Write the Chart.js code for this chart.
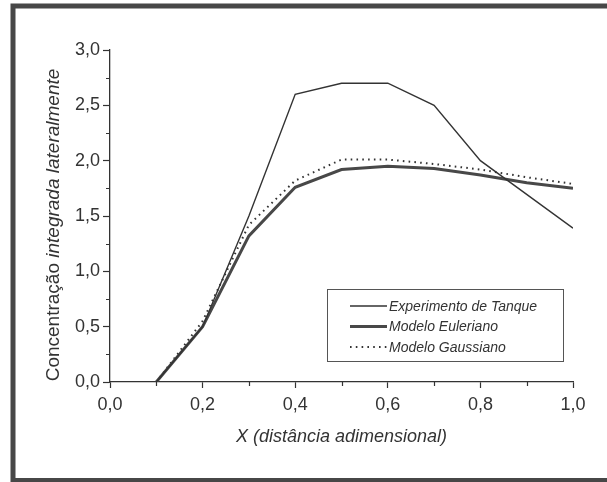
<!DOCTYPE html>
<html><head><meta charset="utf-8">
<script src="https://cdn.jsdelivr.net/npm/chart.js@4"></script>
<style>html,body{margin:0;padding:0;background:#fff;}#wrap{width:607px;height:482px;position:relative;}canvas{display:block;}</style>
</head><body><div id="wrap"><canvas id="c" width="607" height="482"></canvas></div>
<script>
// ---- data ----
const xExperimento = [0.1, 0.2, 0.3, 0.4, 0.5, 0.6, 0.7, 0.8, 1.0];
const experimento  = [0.0, 0.5, 1.5, 2.6, 2.7, 2.7, 2.5, 2.0, 1.39];
const xModelos = [0.1, 0.2, 0.3, 0.4, 0.5, 0.6, 0.7, 0.8, 0.9, 1.0];
const euleriano = [0.0, 0.5, 1.32, 1.76, 1.92, 1.95, 1.93, 1.87, 1.80, 1.75];
const gaussiano = [0.0, 0.55, 1.42, 1.82, 2.01, 2.01, 1.97, 1.92, 1.85, 1.79];
const seriesLabels = ['Experimento de Tanque', 'Modelo Euleriano', 'Modelo Gaussiano'];
const xTickValues = [0.0, 0.2, 0.4, 0.6, 0.8, 1.0];
const yTickValues = [0.0, 0.5, 1.0, 1.5, 2.0, 2.5, 3.0];
const xTitle = 'X (distância adimensional)';
const yTitleUpright = 'Concentração ';
const yTitleItalic = 'integrada lateralmente';

const FONT = "'Liberation Sans', Arial, sans-serif";
const INK = '#333333';
const fmt = v => v.toFixed(1).replace('.', ',');
const pts = (xs, ys) => xs.map((x, i) => ({x: x, y: ys[i]}));

const framePlugin = {
  id: 'frame',
  beforeDraw(chart) {
    const ctx = chart.ctx;
    ctx.save();
    ctx.fillStyle = '#ffffff';
    ctx.fillRect(0, 0, chart.width, chart.height);
    ctx.strokeStyle = '#474747';
    ctx.lineWidth = 5;
    ctx.strokeRect(13, 6, chart.width + 10, 474.5);
    ctx.restore();
  }
};

const minorTicksPlugin = {
  id: 'minorTicks',
  afterDraw(chart) {
    const ctx = chart.ctx, xs = chart.scales.x, ys = chart.scales.y, a = chart.chartArea;
    ctx.save();
    ctx.strokeStyle = INK;
    ctx.lineWidth = 1.2;
    ctx.beginPath();
    for (let i = 0; i < xTickValues.length - 1; i++) {
      const px = Math.round(xs.getPixelForValue((xTickValues[i] + xTickValues[i + 1]) / 2)) + 0.5;
      ctx.moveTo(px, a.bottom); ctx.lineTo(px, a.bottom + 4);
    }
    for (let i = 0; i < yTickValues.length - 1; i++) {
      const py = Math.round(ys.getPixelForValue((yTickValues[i] + yTickValues[i + 1]) / 2)) + 0.5;
      ctx.moveTo(a.left, py); ctx.lineTo(a.left - 4, py);
    }
    ctx.stroke();
    ctx.restore();
  }
};

const yTitlePlugin = {
  id: 'yTitle',
  afterDraw(chart) {
    const ctx = chart.ctx, a = chart.chartArea;
    ctx.save();
    ctx.translate(54, (a.top + a.bottom) / 2 + 9);
    ctx.rotate(-Math.PI / 2);
    ctx.fillStyle = INK;
    ctx.textBaseline = 'middle';
    ctx.textAlign = 'left';
    const f1 = '19px ' + FONT, f2 = 'italic 19px ' + FONT;
    ctx.font = f1; const w1 = ctx.measureText(yTitleUpright).width;
    ctx.font = f2; const w2 = ctx.measureText(yTitleItalic).width;
    const start = -(w1 + w2) / 2;
    ctx.font = f1; ctx.fillText(yTitleUpright, start, 0);
    ctx.font = f2; ctx.fillText(yTitleItalic, start + w1, 0);
    ctx.restore();
  }
};

const legendPlugin = {
  id: 'boxLegend',
  afterDraw(chart) {
    const ctx = chart.ctx, a = chart.chartArea;
    const right = a.right - 10, bottom = a.bottom - 21;
    const left = right - 236, top = bottom - 72;
    ctx.save();
    ctx.strokeStyle = '#555555';
    ctx.lineWidth = 1;
    ctx.strokeRect(Math.round(left) + 0.5, Math.round(top) + 0.5, 236, 72);
    ctx.font = 'italic 14px ' + FONT;
    ctx.textBaseline = 'middle';
    ctx.fillStyle = INK;
    chart.data.datasets.forEach((ds, i) => {
      const y = top + 17 + i * 20.5;
      ctx.save();
      ctx.strokeStyle = ds.borderColor;
      ctx.lineWidth = ds.borderWidth;
      ctx.lineCap = ds.borderCapStyle || 'butt';
      ctx.setLineDash(ds.borderDash || []);
      ctx.beginPath();
      ctx.moveTo(left + 23, y); ctx.lineTo(left + 60, y);
      ctx.stroke();
      ctx.restore();
      ctx.fillText(ds.label, left + 62, y + 1);
    });
    ctx.restore();
  }
};

new Chart(document.getElementById('c'), {
  type: 'line',
  data: {
    datasets: [
      { label: seriesLabels[0], data: pts(xExperimento, experimento), borderColor: '#333333', borderWidth: 1.4, pointRadius: 0, tension: 0 },
      { label: seriesLabels[1], data: pts(xModelos, euleriano), borderColor: '#484848', borderWidth: 3, pointRadius: 0, tension: 0 },
      { label: seriesLabels[2], data: pts(xModelos, gaussiano), borderColor: '#333333', borderWidth: 2, borderDash: [1.6, 4.2], pointRadius: 0, tension: 0 }
    ]
  },
  options: {
    responsive: false,
    animation: false,
    events: [],
    layout: { padding: { left: 0, right: 34, top: 50, bottom: 0 } },
    plugins: { legend: { display: false }, tooltip: { enabled: false } },
    scales: {
      x: {
        type: 'linear', min: 0, max: 1,
        afterBuildTicks: s => { s.ticks = xTickValues.map(v => ({value: v})); },
        afterFit: s => { s.height = 100; },
        ticks: { callback: v => fmt(v), color: INK, font: { family: FONT, size: 18 }, padding: 6, maxRotation: 0 },
        grid: { display: true, drawOnChartArea: false, drawTicks: true, tickLength: 6, color: INK, tickWidth: 1.2 },
        border: { display: true, color: INK, width: 1.3 },
        title: { display: true, text: xTitle, color: INK, font: { family: FONT, size: 18, style: 'italic' }, padding: { top: 0, bottom: 34 } }
      },
      y: {
        type: 'linear', min: 0, max: 3,
        afterBuildTicks: s => { s.ticks = yTickValues.map(v => ({value: v})); },
        afterFit: s => { s.width = 110; },
        ticks: { callback: v => fmt(v), color: INK, font: { family: FONT, size: 18 }, padding: 3 },
        grid: { display: true, drawOnChartArea: false, drawTicks: true, tickLength: 7, color: INK, tickWidth: 1.2 },
        border: { display: true, color: INK, width: 1.3 }
      }
    }
  },
  plugins: [framePlugin, minorTicksPlugin, yTitlePlugin, legendPlugin]
});
</script>
</body></html>
